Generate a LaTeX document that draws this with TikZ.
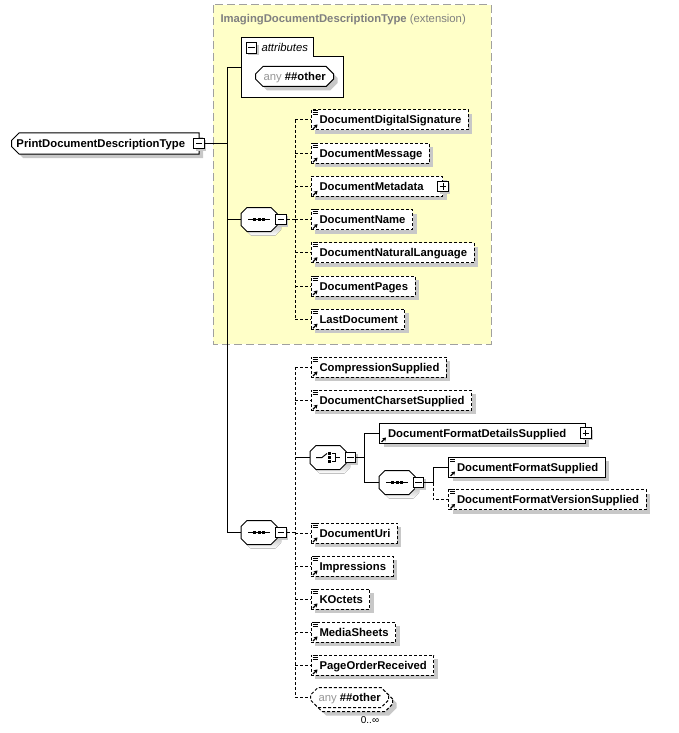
\documentclass[tikz,border=0pt]{standalone}
\usepackage{fontspec}
\setmainfont{Liberation Sans}
\usetikzlibrary{shapes.misc,shadows,arrows.meta,positioning}

\definecolor{extfill}{RGB}{255,255,200}
\definecolor{extline}{RGB}{160,160,160}
\definecolor{shade}{RGB}{200,200,200}
\definecolor{titlegray}{RGB}{128,128,128}
\definecolor{anygray}{RGB}{150,150,150}

\newcommand\elfont{\fontsize{11.3}{13}\selectfont\bfseries}

% small icons of an element box
\newcommand\refarrow[1]{%
  \draw[line width=1.2pt, -{Stealth[length=3.5pt,width=4.5pt]}]
    ([shift={(2.5,-1.5)}]#1.south west) -- ++(4.5,-4.5);}
\newcommand\elicon[1]{%
  \draw[line width=0.8pt]
    ([shift={(2,0.5)}]#1.north west) -- ++(5,0)
    ([shift={(2,2.5)}]#1.north west) -- ++(5,0)
    ([shift={(2,4.5)}]#1.north west) -- ++(5,0);
  \refarrow{#1}}
% octagon of a compositor, with its shadow
\newcommand\compbox[1]{%
  \fill[shade] ([shift={(10,4)}]#1.north west) -- ([shift={(-2,4)}]#1.north east)
    -- ([shift={(4,10)}]#1.north east) -- ([shift={(4,-2)}]#1.south east)
    -- ([shift={(-2,4)}]#1.south east) -- ([shift={(10,4)}]#1.south west)
    -- ([shift={(4,-2)}]#1.south west) -- ([shift={(4,10)}]#1.north west) -- cycle;
  \filldraw[fill=white] ([shift={(6,0)}]#1.north west) -- ([shift={(-6,0)}]#1.north east)
    -- ([shift={(0,6)}]#1.north east) -- ([shift={(0,-6)}]#1.south east)
    -- ([shift={(-6,0)}]#1.south east) -- ([shift={(6,0)}]#1.south west)
    -- ([shift={(0,-6)}]#1.south west) -- ([shift={(0,6)}]#1.north west) -- cycle;}
% compositor symbols
\newcommand\seqsym[1]{%
  \draw[line width=1pt] ([xshift=-11]#1.center) -- ([xshift=11]#1.center);
  \foreach \dx in {-4.5,0,4.5}
    \fill ([shift={(\dx-1.5,-1.5)}]#1.center) rectangle ++(3,3);}
\newcommand\choicesym[1]{%
  \draw[line width=1pt] ([shift={(-12,0)}]#1.center) -- ++(6,0) -- ++(5,-4);
  \foreach \dy in {-4,0,4}
    \fill ([shift={(0,\dy-1.2)}]#1.center) rectangle ++(2.5,2.5);
  \draw[line width=1pt] ([shift={(3.5,-4)}]#1.center) -- ++(4,0) -- ++(0,8) -- ++(-4,0)
    ([shift={(7.5,0)}]#1.center) -- ++(4,0);}

\tikzset{
  shade box/.style={drop shadow={shadow xshift=4pt,shadow yshift=-4pt,fill=shade,opacity=1}},
  dashline/.style={dash pattern=on 3pt off 2pt},
  elem/.style={draw, fill=white, shade box, anchor=west, minimum height=20pt,
    inner xsep=0pt, inner ysep=0pt, text height=10pt, text depth=2pt, font=\elfont,
    execute at begin node=\hspace*{8.5pt}, execute at end node=\hspace*{7pt}},
  optel/.style={elem, dashline},
  reqel/.style={elem},
  hasplus/.style={execute at end node=\hspace*{12pt}},
  expbox/.style={draw, fill=white, minimum size=10.5pt, inner sep=0pt,
    drop shadow={shadow xshift=2pt,shadow yshift=-2pt,fill=shade,opacity=1}},
  minus/.style={expbox, path picture={\draw[line width=1pt]
    ([xshift=2pt]path picture bounding box.west) -- ([xshift=-2pt]path picture bounding box.east);}},
  plus/.style={expbox, path picture={\draw[line width=1pt]
    ([xshift=2pt]path picture bounding box.west) -- ([xshift=-2pt]path picture bounding box.east)
    ([yshift=-2pt]path picture bounding box.north) -- ([yshift=2pt]path picture bounding box.south);}},
  compositor/.style={minimum width=35pt, minimum height=23pt, inner sep=0pt, anchor=west},
  anyel/.style={chamfered rectangle, chamfered rectangle xsep=4pt, draw, fill=white,
    minimum height=20pt, inner xsep=4pt, inner ysep=0pt, text height=10pt, text depth=2pt,
    font=\fontsize{11.3}{13}\selectfont}
}

\begin{document}
\begin{tikzpicture}[x=1pt, y=-1pt, line width=1pt]
\useasboundingbox (0,0) rectangle (678,733);

% extension base type
\draw[extline, fill=extfill, dash pattern=on 8pt off 4pt] (213,5) rectangle (491,344);
\node[anchor=west, inner sep=0pt, text=titlegray, font=\fontsize{11.3}{13}\selectfont] (ext) at (220,19.5)
  {\textbf{ImagingDocumentDescriptionType} (extension)};

% attributes
\node[minimum width=101pt, minimum height=40pt, inner sep=0pt, anchor=north west] (attr) at (241,57) {};
\draw[fill=white] (attr.north west) ++(0,-19) -- ++(72,0) |- (attr.north east) |- (attr.south west) -- cycle;
\node[minus] (attrm) at (251.5,48) {};
\node[anchor=west, inner sep=0pt, font=\fontsize{11.3}{13}\selectfont\itshape] (attrlbl) at (261,47) {attributes};
\node[anyel, shade box, anchor=west] (anyA) at (255,76.5) {\textcolor{anygray}{any} \textbf{\#\#other}};

% root
\node[chamfered rectangle, chamfered rectangle corners={north west,south west},
  chamfered rectangle xsep=4pt, draw, fill=white, shade box, anchor=west,
  minimum height=21pt, inner xsep=0pt, inner ysep=0pt, text height=10pt, text depth=2pt, font=\elfont,
  execute at begin node=\hspace*{1pt}, execute at end node=\hspace*{10pt}] (print) at (11,143.5)
  {PrintDocumentDescriptionType};
\node[minus] (printm) at ([xshift=-0.5pt]print.east) {};

\coordinate (trunk) at (227,68);
\coordinate (bus) at (295,0);

% first sequence
\node[compositor] (seqA) at (241,219.5) {};
\compbox{seqA}
\seqsym{seqA}
\node[minus] (seqAm) at (281,219.5) {};

\node[optel] (dds) at (310.5,120) {DocumentDigitalSignature};
\node[optel] (dmsg) at (310.5,153.2) {DocumentMessage};
\node[optel, hasplus] (dmeta) at (310.5,186.4) {DocumentMetadata};
\node[plus] (dmetap) at (dmeta.east) {};
\node[optel] (dname) at (310.5,219.6) {DocumentName};
\node[optel] (dnl) at (310.5,252.8) {DocumentNaturalLanguage};
\node[optel] (dpages) at (310.5,286) {DocumentPages};
\node[optel] (lastdoc) at (310.5,319.2) {LastDocument};
\foreach \n in {dds,dmsg,dname,dnl,dpages,lastdoc} {\elicon{\n}}
\refarrow{dmeta}

% second sequence
\node[compositor] (seqB) at (241,532.5) {};
\compbox{seqB}
\seqsym{seqB}
\node[minus] (seqBm) at (281,532.5) {};

\node[optel] (comp) at (310.5,367) {CompressionSupplied};
\node[optel] (dcs) at (310.5,400.3) {DocumentCharsetSupplied};

\node[compositor] (choice) at (310,457.5) {};
\compbox{choice}
\choicesym{choice}
\node[minus] (choicem) at (350.5,457.5) {};
\node[reqel, hasplus] (dfds) at (379,433) {DocumentFormatDetailsSupplied};
\node[plus] (dfdsp) at (dfds.east) {};
\refarrow{dfds}
\node[compositor] (seqC) at (379,482.5) {};
\compbox{seqC}
\seqsym{seqC}
\node[minus] (seqCm) at (418.5,482.5) {};
\node[reqel] (dfs) at (448,467) {DocumentFormatSupplied};
\node[optel] (dfvs) at (448,499.5) {DocumentFormatVersionSupplied};
\elicon{dfs}
\elicon{dfvs}

\node[optel] (duri) at (310.5,533) {DocumentUri};
\node[optel] (impr) at (310.5,566) {Impressions};
\node[optel] (koct) at (310.5,599) {KOctets};
\node[optel] (msheets) at (310.5,632) {MediaSheets};
\node[optel] (por) at (310.5,665) {PageOrderReceived};
\foreach \n in {comp,dcs,duri,impr,koct,msheets,por} {\elicon{\n}}

\node[anyel, dashline, shade box, anchor=west] (anyBback) at (314,701.5)
  {\phantom{any \textbf{\#\#other}}};
\node[anyel, dashline, anchor=west] (anyB) at (310,697.5) {\textcolor{anygray}{any} \textbf{\#\#other}};
\node[font=\fontsize{10}{12}\selectfont, inner sep=0pt] (mult) at (370,720) {0..∞};

% connectors
\draw (printm.east) -- (printm.east -| trunk);
\draw (trunk -| attr.west) -- (trunk) |- (seqB.west);
\draw (seqA.west -| trunk) -- (seqA.west);

\draw[dashline] (seqAm.east) -- (seqAm.east -| bus);
\draw[dashline] (bus |- dds.west) -- (bus |- lastdoc.west);
\foreach \n in {dds,dmsg,dmeta,dname,dnl,dpages,lastdoc}
  \draw[dashline] (bus |- \n.west) -- (\n.west);

\draw[dashline] (seqBm.east) -- (seqBm.east -| bus);
\draw[dashline] (bus |- comp.west) -- (bus |- anyB.west);
\foreach \n in {comp,dcs,duri,impr,koct,msheets,por,anyB}
  \draw[dashline] (bus |- \n.west) -- (\n.west);
\draw (bus |- choice.west) -- (choice.west);

\coordinate (busC) at (364,0);
\draw (choicem.east) -- (choicem.east -| busC);
\draw (dfds.west) -| (busC |- seqC.west) -- (seqC.west);

\coordinate (busD) at (433,0);
\draw (seqCm.east) -- (seqCm.east -| busD);
\draw (dfs.west) -| (busD |- seqCm.east);
\draw[dashline] (busD |- seqCm.east) |- (dfvs.west);
\end{tikzpicture}
\end{document}
